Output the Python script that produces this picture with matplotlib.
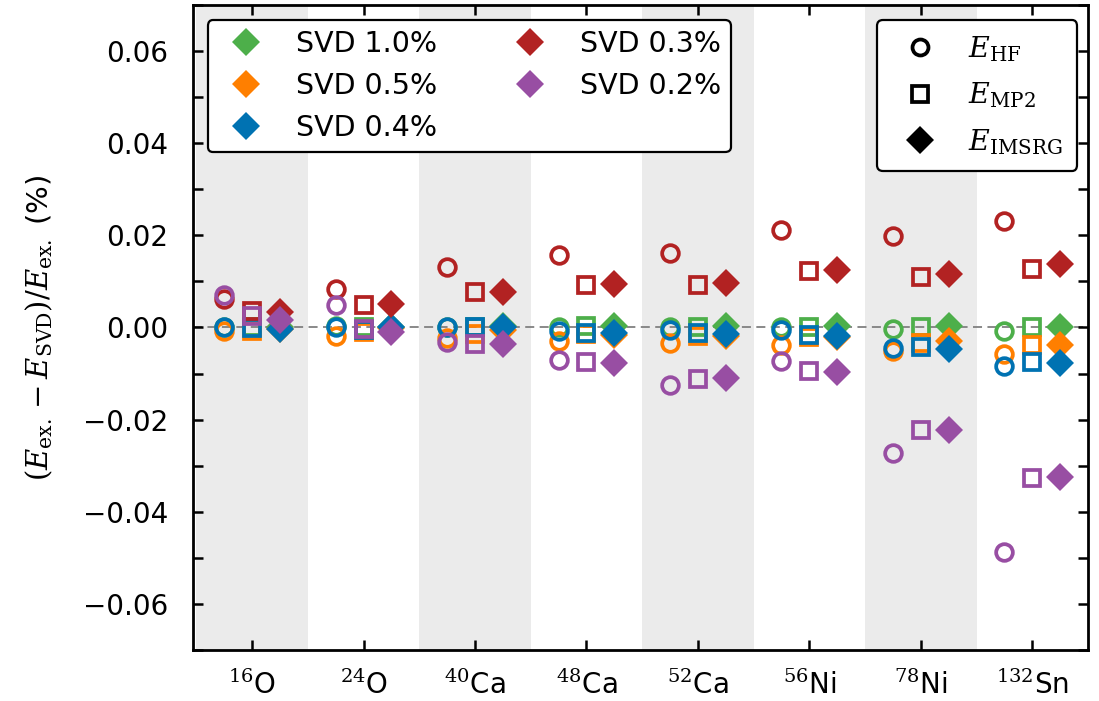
import matplotlib
matplotlib.use("Agg")
import matplotlib.pyplot as plt
from matplotlib.lines import Line2D
from matplotlib.ticker import MultipleLocator
import numpy as np

plt.rcParams["mathtext.fontset"] = "dejavuserif"
plt.rcParams["font.family"] = "DejaVu Sans"

nuclei = [r"$^{16}$O", r"$^{24}$O", r"$^{40}$Ca", r"$^{48}$Ca",
          r"$^{52}$Ca", r"$^{56}$Ni", r"$^{78}$Ni", r"$^{132}$Sn"]

svd_labels = ["SVD 1.0%", "SVD 0.5%", "SVD 0.4%", "SVD 0.3%", "SVD 0.2%"]
svd_colors = ["#4daf4a", "#ff7f00", "#0072b2", "#b22222", "#984ea3"]

# Relative deviation (%) for each SVD cut, per nucleus
hf_10 = [0.0000, 0.0003, 0.0000, 0.0000, 0.0000, 0.0000, -0.0004, -0.0008]
hf_05 = [-0.0008, -0.0019, -0.0022, -0.0030, -0.0033, -0.0039, -0.0050, -0.0057]
hf_04 = [0.0001, 0.0001, 0.0002, -0.0008, -0.0006, -0.0006, -0.0044, -0.0084]
hf_03 = [0.0061, 0.0083, 0.0131, 0.0157, 0.0161, 0.0212, 0.0199, 0.0232]
hf_02 = [0.0070, 0.0048, -0.0032, -0.0070, -0.0124, -0.0073, -0.0272, -0.0488]

mp2_10 = [0.0000, 0.0000, 0.0000, 0.0003, 0.0000, 0.0000, 0.0000, 0.0000]
mp2_05 = [-0.0008, -0.0010, -0.0015, -0.0015, -0.0018, -0.0021, -0.0033, -0.0039]
mp2_04 = [-0.0002, -0.0005, 0.0002, -0.0011, -0.0013, -0.0017, -0.0043, -0.0076]
mp2_03 = [0.0035, 0.0048, 0.0076, 0.0092, 0.0092, 0.0122, 0.0109, 0.0128]
mp2_02 = [0.0024, -0.0003, -0.0035, -0.0076, -0.0111, -0.0095, -0.0222, -0.0327]

ims_10 = [0.0000, 0.0002, 0.0003, 0.0004, 0.0004, 0.0003, 0.0004, 0.0000]
ims_05 = [-0.0003, -0.0002, -0.0005, -0.0016, -0.0019, -0.0021, -0.0030, -0.0037]
ims_04 = [-0.0004, 0.0000, 0.0002, -0.0013, -0.0015, -0.0019, -0.0046, -0.0077]
ims_03 = [0.0033, 0.0050, 0.0076, 0.0094, 0.0096, 0.0125, 0.0115, 0.0137]
ims_02 = [0.0017, -0.0010, -0.0035, -0.0077, -0.0109, -0.0096, -0.0222, -0.0324]

hf = [hf_10, hf_05, hf_04, hf_03, hf_02]
mp2 = [mp2_10, mp2_05, mp2_04, mp2_03, mp2_02]
ims = [ims_10, ims_05, ims_04, ims_03, ims_02]

fig = plt.figure(figsize=(10.99, 7.01), dpi=100)
ax = fig.add_axes([0.1756, 0.0728, 0.8144, 0.9201])

x = np.arange(len(nuclei))

# alternating shaded bands
for i in x:
    if i % 2 == 0:
        ax.axvspan(i - 0.5, i + 0.5, color="#ebebeb", zorder=0, lw=0)

ax.axhline(0.0, color="#808080", ls=(0, (5, 3)), lw=1.3, zorder=1)

ms_open = 12
ms_dia = 14.5
for k in range(5):
    c = svd_colors[k]
    ax.plot(x - 0.25, hf[k], "o", ms=ms_open, mfc="none", mec=c, mew=2.7, ls="none", zorder=3)
    ax.plot(x, mp2[k], "s", ms=ms_open - 0.5, mfc="none", mec=c, mew=2.7, ls="none", zorder=3)
    ax.plot(x + 0.25, ims[k], "D", ms=ms_dia, mfc=c, mec=c, mew=0, ls="none", zorder=3)

ax.set_xlim(-0.53, 7.5)
ax.set_ylim(-0.07, 0.07)
ax.set_xticks(x)
ax.set_xticklabels(nuclei, fontsize=20)
ax.set_yticks([-0.06, -0.04, -0.02, 0.0, 0.02, 0.04, 0.06])
ax.yaxis.set_minor_locator(MultipleLocator(0.01))
ax.tick_params(axis="both", which="both", direction="in", top=True, right=True,
               length=7, width=1.8, labelsize=20)
ax.tick_params(axis="x", pad=15)
ax.tick_params(axis="y", pad=18)
ax.set_yticklabels(["\u22120.06", "\u22120.04", "\u22120.02", "0.00", "0.02", "0.04", "0.06"])
for s in ax.spines.values():
    s.set_linewidth(2)

ax.set_ylabel(r"$(E_{\rm ex.}-E_{\rm SVD})/E_{\rm ex.}$ (%)", fontsize=21, labelpad=20)

svd_handles = [Line2D([], [], marker="D", ls="none", color=c, ms=14, mew=0)
               for c in svd_colors]
leg1 = ax.legend(svd_handles, svd_labels, loc="upper left", ncol=2, fontsize=20.5,
                 bbox_to_anchor=(0.0165, 0.977), borderaxespad=0, frameon=True,
                 fancybox=True, framealpha=1, edgecolor="black",
                 handletextpad=0.75, columnspacing=2.25, labelspacing=0.5,
                 borderpad=0.35)
leg1.get_frame().set_linewidth(1.6)
ax.add_artist(leg1)

method_handles = [
    Line2D([], [], marker="o", ls="none", mfc="none", mec="black", mew=2.7, ms=11.5),
    Line2D([], [], marker="s", ls="none", mfc="none", mec="black", mew=2.7, ms=11),
    Line2D([], [], marker="D", ls="none", color="black", ms=14, mew=0),
]
method_labels = [r"$E_{\rm HF}$", r"$E_{\rm MP2}$", r"$E_{\rm IMSRG}$"]
leg2 = ax.legend(method_handles, method_labels, loc="upper right", fontsize=20.5,
                 bbox_to_anchor=(0.988, 0.977), borderaxespad=0, frameon=True,
                 fancybox=True, framealpha=1, edgecolor="black",
                 handletextpad=0.7, labelspacing=0.6, borderpad=0.5)
leg2.get_frame().set_linewidth(1.6)

fig.savefig("out.png", dpi=100)
